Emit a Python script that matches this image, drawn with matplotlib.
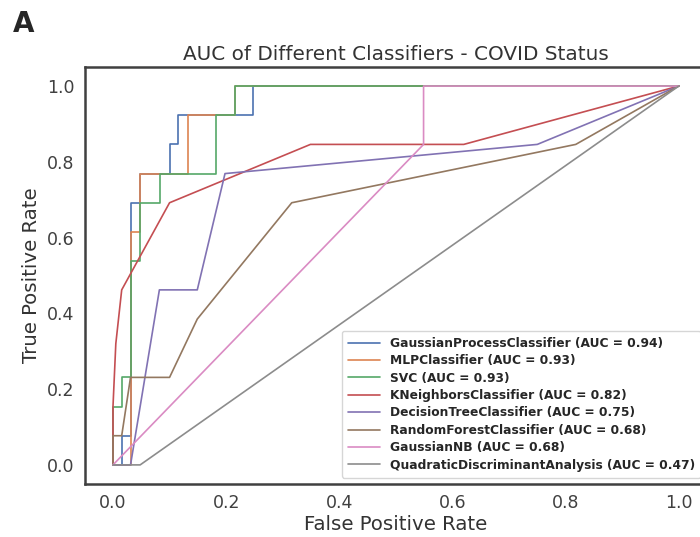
import numpy as np
import matplotlib
matplotlib.use("Agg")
import matplotlib.pyplot as plt
import seaborn as sns

sns.set_style("white")
plt.rcParams['font.family'] = ['DejaVu Sans']

# ROC curves (fpr, tpr)
names = ["GaussianProcessClassifier", "MLPClassifier", "SVC", "KNeighborsClassifier",
         "DecisionTreeClassifier", "RandomForestClassifier", "GaussianNB",
         "QuadraticDiscriminantAnalysis"]
aucs = [0.94, 0.93, 0.93, 0.82, 0.75, 0.68, 0.68, 0.47]

gpc_fpr = [0, 0.0154, 0.0154, 0.031, 0.031, 0.048, 0.048, 0.1, 0.1, 0.115, 0.115, 0.248, 0.248, 1]
gpc_tpr = [0, 0, 0.077, 0.077, 0.692, 0.692, 0.769, 0.769, 0.846, 0.846, 0.923, 0.923, 1, 1]

mlp_fpr = [0, 0.031, 0.031, 0.048, 0.048, 0.132, 0.132, 0.216, 0.216, 1]
mlp_tpr = [0, 0, 0.615, 0.615, 0.769, 0.769, 0.923, 0.923, 1, 1]

svc_fpr = [0, 0, 0.0154, 0.0154, 0.031, 0.031, 0.048, 0.048, 0.083, 0.083, 0.182, 0.182, 0.216, 0.216, 1]
svc_tpr = [0, 0.154, 0.154, 0.231, 0.231, 0.538, 0.538, 0.692, 0.692, 0.769, 0.769, 0.923, 0.923, 1, 1]

knn_fpr = [0, 0, 0.005, 0.0154, 0.1, 0.349, 0.62, 1]
knn_tpr = [0, 0.154, 0.32, 0.462, 0.692, 0.846, 0.846, 1]

dt_fpr = [0, 0.031, 0.082, 0.149, 0.198, 0.75, 1]
dt_tpr = [0, 0, 0.462, 0.462, 0.769, 0.846, 1]

rf_fpr = [0, 0, 0.0154, 0.031, 0.1, 0.149, 0.316, 0.818, 1]
rf_tpr = [0, 0.077, 0.077, 0.231, 0.231, 0.385, 0.692, 0.846, 1]

nb_fpr = [0, 0.549, 0.549, 1]
nb_tpr = [0, 0.846, 1, 1]

qda_fpr = [0, 0.048, 1]
qda_tpr = [0, 0, 1]

curves = [(gpc_fpr, gpc_tpr), (mlp_fpr, mlp_tpr), (svc_fpr, svc_tpr), (knn_fpr, knn_tpr),
          (dt_fpr, dt_tpr), (rf_fpr, rf_tpr), (nb_fpr, nb_tpr), (qda_fpr, qda_tpr)]
colors = sns.color_palette("deep", 8)

fig = plt.figure(figsize=(7.0, 5.37), dpi=100)
ax = fig.add_axes([0.121, 0.099, 0.889, 0.776])

for (fpr, tpr), name, auc, c in zip(curves, names, aucs, colors):
    ax.plot(fpr, tpr, color=c, lw=1.2, label=f"{name} (AUC = {auc:.2f})")

ax.set_xlim(-0.05, 1.05)
ax.set_ylim(-0.05, 1.05)
ax.set_xticks([0, 0.2, 0.4, 0.6, 0.8, 1.0])
ax.set_yticks([0, 0.2, 0.4, 0.6, 0.8, 1.0])
ax.tick_params(labelsize=12.5, colors='.25', pad=4)
ax.set_xlabel("False Positive Rate", fontsize=14.2, color='.2', labelpad=2)
ax.set_ylabel("True Positive Rate", fontsize=14.2, color='.2', labelpad=4)
ax.set_title("AUC of Different Classifiers - COVID Status", fontsize=14.4, color='.2', pad=5)
for s in ax.spines.values():
    s.set_linewidth(1.8)
    s.set_color('.25')

ax.legend(loc='lower right', prop={'weight': 'bold', 'size': 8.8}, frameon=True,
          handlelength=2.6, labelspacing=0.36, borderpad=0.5)

fig.text(0.018, 0.94, "A", fontsize=20, fontweight='bold', va='baseline')

fig.savefig("out.png", dpi=100)
